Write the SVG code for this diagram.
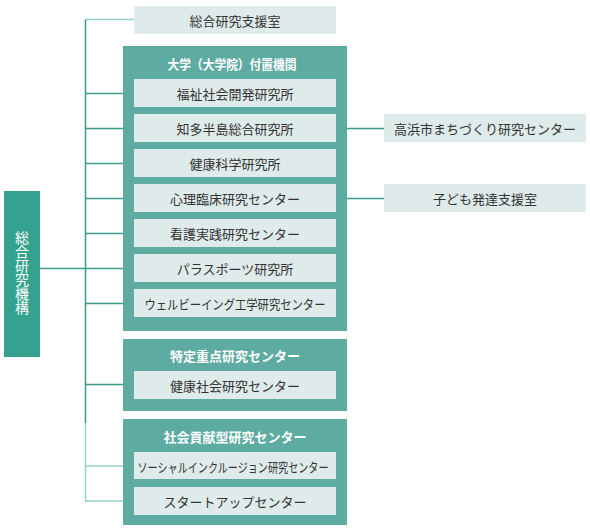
<svg xmlns="http://www.w3.org/2000/svg" width="590" height="529" viewBox="0 0 590 529">
<style>
text{font-family:"Noto Sans CJK JP","Noto Sans",sans-serif;}
.grp{fill:#5eaba2;}
.inner{fill:#dfeaea;}
.it{font-size:13px;fill:#333;text-anchor:middle;dominant-baseline:central;}
.ht{font-size:13px;fill:#fff;font-weight:bold;text-anchor:middle;dominant-baseline:central;}
.dk{stroke:#3a9a8b;stroke-width:1.5;fill:none;}
.lt{stroke:#97d0c6;stroke-width:1.5;fill:none;}
</style>
<rect width="590" height="529" fill="#fff"/>
<g id="connectors">
<line class="lt" x1="85.5" y1="19.5" x2="134" y2="19.5"/>
<line class="dk" x1="85.5" y1="19.5" x2="85.5" y2="423"/>
<line class="lt" x1="85.5" y1="423" x2="85.5" y2="501.5"/>
<line class="dk" x1="85.5" y1="93.5" x2="134" y2="93.5"/>
<line class="dk" x1="85.5" y1="128.5" x2="134" y2="128.5"/>
<line class="dk" x1="85.5" y1="163.5" x2="134" y2="163.5"/>
<line class="dk" x1="85.5" y1="198.5" x2="134" y2="198.5"/>
<line class="dk" x1="85.5" y1="233.5" x2="134" y2="233.5"/>
<line class="dk" x1="40" y1="268.5" x2="134" y2="268.5"/>
<line class="dk" x1="85.5" y1="303.5" x2="134" y2="303.5"/>
<line class="dk" x1="85.5" y1="384.5" x2="134" y2="384.5"/>
<line class="lt" x1="85.5" y1="466" x2="134" y2="466"/>
<line class="lt" x1="85.5" y1="501" x2="134" y2="501"/>
<line class="dk" x1="336" y1="128.5" x2="384" y2="128.5"/>
<line class="dk" x1="336" y1="198.5" x2="384" y2="198.5"/>
</g>
<g id="root">
<rect x="4" y="191" width="36" height="166" fill="#35a28f"/>
<text x="22" y="231" font-size="14" fill="#fff" text-anchor="start" style="writing-mode:vertical-rl;letter-spacing:0px;">総合研究機構</text>
</g>
<g id="shien">
<rect class="inner" x="134" y="6" width="202" height="28"/>
<text class="it" x="235" y="20">総合研究支援室</text>
</g>
<g id="fuchi-group">
<rect class="grp" x="123" y="46" width="224" height="285"/>
<text class="ht" x="232" y="63" textLength="129" lengthAdjust="spacingAndGlyphs">大学（大学院）付置機関</text>
</g>
<g id="n1"><rect class="inner" x="134" y="79" width="202" height="28"/><text class="it" x="235" y="93">福祉社会開発研究所</text></g>
<g id="n2"><rect class="inner" x="134" y="114" width="202" height="28"/><text class="it" x="235" y="128">知多半島総合研究所</text></g>
<g id="n3"><rect class="inner" x="134" y="149" width="202" height="28"/><text class="it" x="235" y="163">健康科学研究所</text></g>
<g id="n4"><rect class="inner" x="134" y="184" width="202" height="28"/><text class="it" x="235" y="198">心理臨床研究センター</text></g>
<g id="n5"><rect class="inner" x="134" y="219" width="202" height="28"/><text class="it" x="235" y="233">看護実践研究センター</text></g>
<g id="n6"><rect class="inner" x="134" y="254" width="202" height="28"/><text class="it" x="235" y="268">パラスポーツ研究所</text></g>
<g id="n7"><rect class="inner" x="134" y="289" width="202" height="28"/><text class="it" x="235" y="303" textLength="181" lengthAdjust="spacingAndGlyphs">ウェルビーイング工学研究センター</text></g>
<g id="tokutei-group">
<rect class="grp" x="123" y="339" width="224" height="72"/>
<text class="ht" x="235" y="355">特定重点研究センター</text>
</g>
<g id="n8"><rect class="inner" x="134" y="371" width="202" height="28"/><text class="it" x="235" y="385">健康社会研究センター</text></g>
<g id="koken-group">
<rect class="grp" x="123" y="419" width="224" height="106"/>
<text class="ht" x="235" y="436">社会貢献型研究センター</text>
</g>
<g id="n9"><rect class="inner" x="134" y="452" width="202" height="27"/><text class="it" x="233" y="466" textLength="191" lengthAdjust="spacingAndGlyphs">ソーシャルインクルージョン研究センター</text></g>
<g id="n10"><rect class="inner" x="134" y="487" width="202" height="28"/><text class="it" x="235" y="501">スタートアップセンター</text></g>
<g id="takahama"><rect class="inner" x="384" y="114" width="202" height="28"/><text class="it" x="485" y="128">高浜市まちづくり研究センター</text></g>
<g id="kodomo"><rect class="inner" x="384" y="184" width="202" height="28"/><text class="it" x="485" y="198">子ども発達支援室</text></g>
</svg>
